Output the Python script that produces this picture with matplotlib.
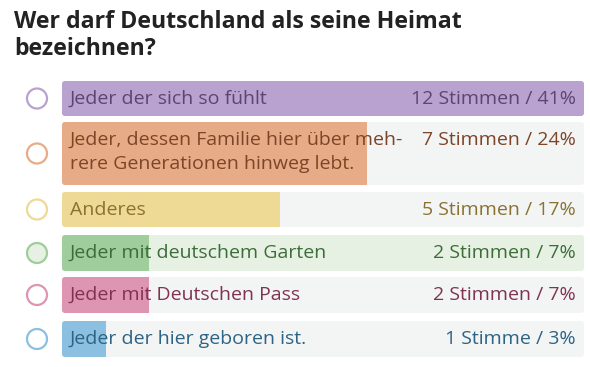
import matplotlib.pyplot as plt
from matplotlib.patches import FancyBboxPatch, Circle

plt.rcParams['font.family'] = ['Open Sans', 'DejaVu Sans']

title_lines = ["Wer darf Deutschland als seine Heimat", "bezeichnen?"]
labels = [
    ["Jeder der sich so fühlt"],
    ["Jeder, dessen Familie hier über meh-", "rere Generationen hinweg lebt."],
    ["Anderes"],
    ["Jeder mit deutschem Garten"],
    ["Jeder mit Deutschen Pass"],
    ["Jeder der hier geboren ist."],
]
votes = [12, 7, 5, 2, 2, 1]
percent = [41, 24, 17, 7, 7, 3]
vote_text = ["12 Stimmen", "7 Stimmen", "5 Stimmen", "2 Stimmen", "2 Stimmen", "1 Stimme"]

bar_colors = ["#b9a2cf", "#e8ab87", "#eed995", "#9fcd9b", "#de95b2", "#8cc0e0"]
text_colors = ["#5a4670", "#7d4527", "#8a7232", "#3d6d39", "#7e3352", "#2d6384"]
bg_colors = ["#f3f4f4", "#f3f4f4", "#f3f4f4", "#e6f1e3", "#f3f4f4", "#f3f4f4"]
circle_faces = ["white", "white", "white", "#e6f1e3", "white", "white"]

# layout in pixels
row_top = [81, 122, 192, 235, 277, 321]
row_h = [35, 63, 35, 36, 36, 36]
box_x0, box_w = 62, 522

fig = plt.figure(figsize=(5.9, 3.67), dpi=100)
ax = fig.add_axes([0, 0, 1, 1])
ax.set_xlim(0, 590)
ax.set_ylim(367, 0)
ax.axis('off')

for k, line in enumerate(title_lines):
    ax.text(14, 28 + 27 * k, line, fontsize=16.7, fontweight='bold', color="#222222",
            va='baseline', ha='left')

vmax = max(votes)
for i in range(len(labels)):
    top, h = row_top[i], row_h[i]
    bg = FancyBboxPatch((box_x0, top), box_w, h,
                        boxstyle="round,pad=0,rounding_size=3",
                        fc=bg_colors[i], ec="none")
    ax.add_patch(bg)
    bars = ax.barh(top + h / 2, votes[i] / vmax * box_w, height=h, left=box_x0,
                   color=bar_colors[i])
    bars[0].set_clip_path(bg)

    ax.add_patch(Circle((37, top + h / 2), 10, fc=circle_faces[i],
                        ec=bar_colors[i], lw=1.6))

    for k, line in enumerate(labels[i]):
        ax.text(70, top + 23 + 24 * k, line, fontsize=14, color=text_colors[i],
                va='baseline', ha='left')
    ax.text(576, top + 23, f"{vote_text[i]} / {percent[i]}%", fontsize=14,
            color=text_colors[i], va='baseline', ha='right')

fig.savefig("out.png", dpi=100)
